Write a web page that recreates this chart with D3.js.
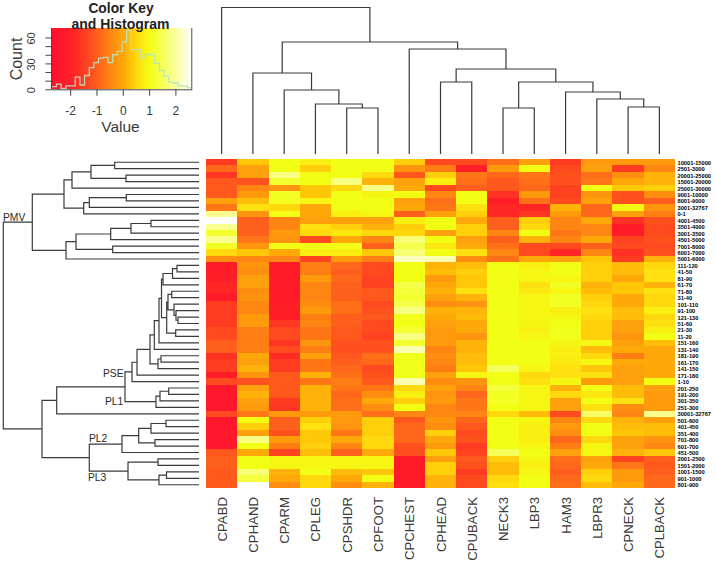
<!DOCTYPE html>
<html><head><meta charset="utf-8">
<script src="https://cdn.jsdelivr.net/npm/d3@7"></script>
<style>html,body{margin:0;padding:0;background:#fff}svg{display:block;font-family:"Liberation Sans",Arial,sans-serif}</style>
</head><body><svg id="c" width="716" height="562"></svg>
<script>
const columns=["CPABD","CPHAND","CPARM","CPLEG","CPSHDR","CPFOOT","CPCHEST","CPHEAD","CPUBACK","NECK3","LBP3","HAM3","LBPR3","CPNECK","CPLBACK"];
const rowsLabels=["10001-15000","2501-3000","20001-25000","15001-20000","25001-30000","9001-10000","8001-9000","3001-32767","0-1","4001-4500","3501-4000","3001-3500","4501-5000","7001-8000","6001-7000","5001-6000","111-120","41-50","81-90","61-70","71-80","31-40","101-110","91-100","121-130","51-60","21-30","11-20","151-160","131-140","181-190","161-170","141-150","171-180","1-10","201-250","191-200","301-350","251-300","30001-32767","501-600","401-450","351-400","701-800","601-700","451-500","2001-2500","1501-2000","1001-1500","901-1000","801-900"];
const CPABD=[-1.5,-0.9,-1.6,-1.1,-1.1,-1.1,-0.1,-0.7,1.9,2.6,1.9,1.2,1.9,1.1,0.5,-0.4,-2.2,-2.1,-2.1,-1.9,-1.9,-2.3,-1.5,-1.5,-1.5,-1.5,-1.3,-1.3,-1.0,-1.0,-1.7,-1.5,-1.5,-2.1,-1.3,-2.4,-2.4,-2.4,-2.4,-1.3,-2.4,-2.4,-2.4,-2.4,-2.4,-1.1,-1.0,-1.0,-1.1,-1.1,-1.1];
const CPHAND=[0.3,-0.1,-0.1,-1.2,-0.5,-0.2,0.2,0.6,-0.3,-1,-1,-1,-0.7,-0.3,0.3,-0.5,-0.3,-0.4,-0.1,-0.1,-0.4,-0.3,-0.5,-0.5,-0.2,-0.2,-0.6,-0.6,-0.6,-0.6,0,-0.1,0.1,-0.3,-1.2,-0.1,0.1,-0.1,-0.2,-0.7,1,0.4,-0.1,1.8,1,0,1,1,1.7,1.3,2.6];
const CPARM=[1,1,1.8,1.2,-0.3,1.1,1.1,0.5,1.0,-0.5,-0.5,-0.2,-0.3,1.0,0,-0.5,-2.2,-2.2,-2.2,-2.2,-2.2,-2.2,-2.1,-2.1,-2.1,-1.6,-1.3,-1.3,-1.6,-1.3,-1.8,-1.5,-1.5,-1.1,-1.1,-1.1,-1.1,-1.5,-1.6,-0.2,-1.0,-1.0,-1.2,-0.2,-0.6,-1.4,0.9,0.9,0.1,0,-0.4];
const CPLEG=[0.8,0.4,1,1,0.3,0.3,0.9,0,0,-0.1,0.6,0.5,-1.3,1,0.8,-1.4,-0.6,-0.6,-0.2,-0.5,-0.5,-0.5,-0.4,-0.2,-0.6,-0.5,-0.7,-0.7,-0.3,-0.6,-0.1,-0.7,-0.7,0.1,-0.7,0.1,0.1,0.1,0.1,-0.2,0.4,0.6,0.3,0.3,0.4,0.2,0.9,0.9,1,0.5,0.5];
const CPSHDR=[1,1,1,1.8,0.5,1,1,1,0.8,-0.1,0.4,0.7,0,1,0.8,-0.2,-0.9,-1,-0.9,-1,-1,-1,-0.8,-0.8,-1,-1,-1.1,-1.1,-1.2,-1.2,-1.1,-1,-0.9,-0.8,-0.6,-0.7,-0.9,-0.8,-0.8,-0.2,-0.2,-0.3,-0.7,0,-0.5,-1,0.9,0.9,0.2,0,-0.4];
const CPFOOT=[1,1,0.5,0.1,1.8,0.9,1,1,0.9,-0.1,0.1,0.5,-0.5,-1,0.3,-0.6,-1.3,-1.3,-1.4,-1.4,-1.1,-1.1,-1.3,-1.2,-1.1,-1.3,-1.3,-1.4,-1.2,-1.2,-0.8,-0.9,-1.3,-1.2,-1.1,-0.7,-0.4,0,-0.4,-0.8,0.4,0.4,0.4,0.5,0.5,0,0.9,0.9,0.3,1,0.1];
const CPCHEST=[0.4,-0.3,-1.1,-0.1,0,1,-0.1,0,-1,0.8,0.4,0.5,1.7,1.4,1.7,2.2,1,1,1,1.4,1.3,1.2,1.4,1.8,1.05,1,1.2,1.8,1.2,2.1,1.05,1.05,1.05,1.05,2.1,0.5,0.8,0.4,1,-0.5,-1.1,-0.9,-0.9,-0.9,-1.2,-1.2,-2.2,-2.2,-2.2,-2.2,-2.2];
const CPHEAD=[-1.3,-0.6,0.4,0.8,-1.3,-0.5,-0.8,-0.7,-0.1,1,1,-0.1,1,0.7,1,2.1,0.1,0.2,-0.2,0,0.1,-0.1,-0.4,0.1,0,-0.1,-0.2,-0.2,-0.2,-0.5,-0.4,-0.5,-0.6,-0.1,-0.4,-0.1,-0.3,-0.2,-0.5,-0.5,-0.3,-0.4,0.4,0,-0.2,0.3,-0.1,0.4,0.4,0.1,0.1];
const CPUBACK=[-1.3,-2,-0.7,-0.8,-1,1,1,0.6,0.4,0,0.4,0.4,-0.1,0,0.6,-0.4,0.2,0.4,0.3,0.3,0.6,0.1,-0.3,0.1,0.2,0,0,-0.3,0.1,0.1,0.2,0.2,0.3,0.9,-0.3,-0.5,-0.9,-0.7,-0.7,-0.5,-0.9,-1.1,-1.3,-1.2,-1.5,-1.4,-1.1,-1.2,-1.5,-1.3,-1.3];
const NECK3=[-0.8,-0.2,-0.9,-1.1,-1.1,-1.7,-2.1,-1.9,-1.9,-1,-1,-0.5,-1,-0.8,-0.5,-0.8,1,1,1,1,1,1,1,1,1,1,1,1,1,1,1,1,1.5,1,1,1.3,1.1,1.1,1,0.5,1,1,1,1,1,1.5,0.4,0.2,0.2,0.5,0.6];
const LBP3=[-0.1,1,-0.7,-0.8,-0.9,-0.2,-0.8,-1.9,-1.6,0.4,0.5,1,0.1,-1.3,-1.3,0,0.8,0.9,0.9,0.6,0.7,0.9,0.9,0.9,0.9,0.9,0.8,0.9,1,1,1,1,0.9,0.5,0.6,0.9,0.9,0.9,0.9,0.2,0.9,0.8,0.8,0.8,0.9,1,0.9,0.8,0.9,1,1];
const HAM3=[-1.5,-1.3,-1.2,-1.2,-1.4,-1.4,-1.3,0.1,-0.2,-0.5,-0.5,-0.7,-0.5,-1.3,-1.9,-0.1,1,1,0.9,1.1,0.9,1.1,1.1,0.8,0.9,1,1.05,1.05,0.9,0.8,0.8,0.7,0.6,0.6,0.9,0.1,0.5,-0.1,-0.1,-1.3,-0.5,-0.2,-0.4,-0.9,-0.6,-0.1,-0.8,-0.9,-1,-0.9,-0.8];
const LBPR3=[-0.2,-0.1,-0.8,-0.7,1,-0.3,-0.1,-0.9,-0.9,0,-0.5,-0.5,0,-1,-0.5,0.3,0.4,0.4,0.4,0.1,0.2,0.4,0.5,0.6,0.5,0.4,0.4,0.4,0.9,0.2,0.5,0.9,0.3,0.6,-0.2,1,0.7,1,0.6,1.6,0.5,1,1,0.5,0.9,0.9,-0.1,0,0.4,0.5,0.2];
const CPNECK=[-0.2,-1.5,-0.4,0,0.3,-1.2,-1.2,0.9,-0.1,-1.7,-2.2,-2.2,-1.4,-1.3,-1.7,-1.5,0.2,0.2,0,0.3,0.3,0,0,0.2,0.2,-0.1,-0.1,-0.3,-0.1,0,-0.6,0,-0.1,-0.1,-0.1,0.2,0.2,0.6,-0.4,-0.5,0.1,0.2,0.3,-0.1,-0.1,0.1,-1.4,-0.7,-0.2,-0.2,0];
const CPLBACK=[-0.2,-0.5,0.1,0.1,0.4,-0.4,-1,-0.3,-0.6,-1.2,-1.3,-1.3,-1.2,-1.3,-1.2,0.1,0.5,0.6,0.6,0.1,0.6,0.5,0.5,0.8,0.5,0.6,0.8,1,0.2,0,0,0,0,0,1,-0.1,-0.2,-0.2,-0.2,1.9,-0.1,0.2,0.2,-0.3,-0.5,0.3,-1,-1.1,-1,-0.9,-0.9];
const matrixColumns=[CPABD,CPHAND,CPARM,CPLEG,CPSHDR,CPFOOT,CPCHEST,CPHEAD,CPUBACK,NECK3,LBP3,HAM3,LBPR3,CPNECK,CPLBACK];

const histCounts=[3,6,1,4,4,14,5,16,25,31,36,37,31,40,44,55,68,46,46,36,40,41,30,22,15,8,7,4,4,2];
const histStart=-2.70, histBin=0.178;
const keyTicksX=[-2,-1,0,1,2], keyTicksY=[0,10,20,30,40,50,60], keyLabelsY=[0,30,60];

// merge heights, nested as [height, childA, childB]; integers index leaves
const colTree=[146.5,0,[112,[81,1,[64,2,[50,3,[46,4,5]]]],[105,6,[85,[72,7,8],[72,[46,9,10],[62,11,[55,12,[47,13,14]]]]]]]];
const h_=[36,[26.5,[22,16,17],18],19];
const q_=[32.3,[31,[27.3,20,21],[25,22,[23,23,[21,24,25]]]],[23.3,26,27]];
const d_=[44.7,[40,[37.5,h_,q_],28],29];
const e_=[41,[38,30,31],32];
const pse_=[74,[67,[62,[49,d_,e_],33],34],[43,[39,[30.3,35,36],37],38]];
const rowTree=[195.7,
 [166.7,
  [135,[127,[108,[84.3,0,1],[73,2,3]],4],[115.3,[109.7,[72.7,5,6],7],8]],
  [133,[123,[88.3,[68,[48,9,10],11],12],[86.3,13,14]],15]],
 [157,
  [142.3,pse_,39],
  [109.7,
   [77,[60.3,[48,[33,40,41],42],[44,43,44]],45],
   [71,[41,46,47],[40,[32.5,48,49],50]]]]];

const PAL_D=[-2.7,-2.0,-1.5,-1.0,-0.5,0,0.3,0.6,1.0,1.9,2.6];
const PAL_C=["#ff1230","#ff2025","#ff3c22","#ff5f1c","#ff8612","#ffa80a","#ffc708","#ffe010","#f2ff14","#faff90","#ffffff"];
const color=d3.scaleLinear().domain(PAL_D).range(PAL_C);

const svg=d3.select("#c");
const textDark="#3a3a3a";
// heatmap
const hmX=d3.scaleBand().domain(d3.range(columns.length)).range([206,675]);
const hmY=d3.scaleBand().domain(d3.range(rowsLabels.length)).range([159,488]);
const hm=svg.append("g").attr("shape-rendering","crispEdges");
columns.forEach((c,i)=>{
 hm.selectAll(null).data(matrixColumns[i]).enter().append("rect")
  .attr("x",hmX(i)).attr("width",hmX.bandwidth()+0.4)
  .attr("y",(v,r)=>hmY(r)).attr("height",hmY.bandwidth()+0.4)
  .attr("fill",v=>color(v));
});
svg.append("g").selectAll("text").data(columns).enter().append("text")
 .attr("transform",(d,i)=>`translate(${hmX(i)+hmX.bandwidth()/2+5},497) rotate(-90)`)
 .attr("text-anchor","end").attr("font-size",13.2).attr("fill",textDark).text(d=>d);
svg.append("g").selectAll("text").data(rowsLabels).enter().append("text")
 .attr("x",677.5).attr("y",(d,i)=>hmY(i)+hmY.bandwidth()/2+2.5)
 .attr("font-size",5.7).attr("font-weight","bold").attr("fill","#000").text(d=>d);

// dendrograms
function build(t){return d3.hierarchy(t,d=>Array.isArray(d)?d.slice(1):null);}
function layout(root,leafPos,hPos){
 root.eachAfter(n=>{
  if(n.children){n.h=hPos(n.data[0]);n.p=d3.mean(n.children,c=>c.p);}
  else{n.h=hPos(0);n.p=leafPos(n.data);}
 });
}
const topRoot=build(colTree);
layout(topRoot,i=>hmX(i)+hmX.bandwidth()/2,d3.scaleLinear().domain([0,146.5]).range([154,7.5]));
const leftRoot=build(rowTree);
layout(leftRoot,i=>hmY(i)+hmY.bandwidth()/2,d3.scaleLinear().domain([0,195.7]).range([199,3.3]));
const path=d3.path();
topRoot.each(n=>{if(n.children){const[a,b]=n.children;path.moveTo(a.p,a.h);path.lineTo(a.p,n.h);path.lineTo(b.p,n.h);path.lineTo(b.p,b.h);}});
leftRoot.each(n=>{if(n.children){const[a,b]=n.children;path.moveTo(a.h,a.p);path.lineTo(n.h,a.p);path.lineTo(n.h,b.p);path.lineTo(b.h,b.p);}});
svg.append("path").attr("d",path.toString()).attr("fill","none").attr("stroke","#3a3a3a").attr("stroke-width",1.2);

// cluster labels
const clusters=["PMV","PSE","PL1","PL2","PL3"];
const clusterAnchors=[[3,220.7],[103,376.7],[105,404.7],[89,441.7],[88,481.3]];
svg.append("g").selectAll("text").data(clusters).enter().append("text")
 .attr("x",(d,i)=>clusterAnchors[i][0]).attr("y",(d,i)=>clusterAnchors[i][1])
 .attr("font-size",10.3).attr("fill","#2a2a2a").text(d=>d);

// color key
const kx=d3.scaleLinear().domain([-2.73,2.62]).range([51,191.7]);
const ky=d3.scaleLinear().domain([0,71]).range([89.3,28]);
const key=svg.append("g");
key.append("g").attr("shape-rendering","crispEdges").selectAll("rect").data(d3.range(-2.73,2.62,0.05)).enter().append("rect")
 .attr("x",d=>kx(d)).attr("width",d=>kx(d+0.05)-kx(d)+0.5).attr("y",28).attr("height",61.3).attr("fill",d=>color(d));
const line=d3.line().curve(d3.curveStepAfter).x(d=>kx(d[0])).y(d=>ky(d[1]));
const histPts=histCounts.map((c,i)=>[histStart+i*histBin,c]);
histPts.push([2.62,histCounts[histCounts.length-1]]);
key.append("path").attr("d",line(histPts)).attr("fill","none").attr("stroke","#b5e3c0").attr("stroke-opacity",0.9).attr("stroke-width",1.3);
key.append("line").attr("x1",191.7).attr("x2",191.7).attr("y1",28).attr("y2",89.3).attr("stroke","#808080").attr("stroke-width",1.4);
const ax=key.append("g").attr("transform","translate(0,89.3)").call(d3.axisBottom(kx).tickValues(keyTicksX).tickSize(6.5).tickSizeOuter(0).tickFormat(d3.format("d")));
ax.select(".domain").attr("stroke","#444");
ax.selectAll("line").attr("stroke","#444");
ax.selectAll("text").attr("font-family","Liberation Sans").attr("font-size",12).attr("fill",textDark).attr("y",17.5).text(d=>d);
const ay=key.append("g").attr("transform","translate(51,0)").call(d3.axisLeft(ky).tickValues(keyTicksY).tickSize(5.5).tickSizeOuter(0).tickFormat(d=>keyLabelsY.includes(d)?d:""));
ay.select(".domain").attr("stroke","#444");
ay.selectAll("line").attr("stroke","#444");
ay.selectAll("text").attr("font-family","Liberation Sans").attr("font-size",11).attr("fill",textDark).attr("text-anchor","middle").attr("x",0).attr("y",0).attr("dy",0).attr("transform","translate(-16,0.5) rotate(-90)");
key.append("text").attr("x",121).attr("y",13).attr("text-anchor","middle").attr("font-size",13.8).attr("font-weight","bold").attr("fill","#222").text("Color Key");
key.append("text").attr("x",120.5).attr("y",28.5).attr("text-anchor","middle").attr("font-size",14).attr("font-weight","bold").attr("fill","#222").text("and Histogram");
key.append("text").attr("transform","translate(22,59) rotate(-90)").attr("text-anchor","middle").attr("font-size",16).attr("fill",textDark).text("Count");
key.append("text").attr("x",120.5).attr("y",131.5).attr("text-anchor","middle").attr("font-size",15.5).attr("fill",textDark).text("Value");
</script></body></html>
